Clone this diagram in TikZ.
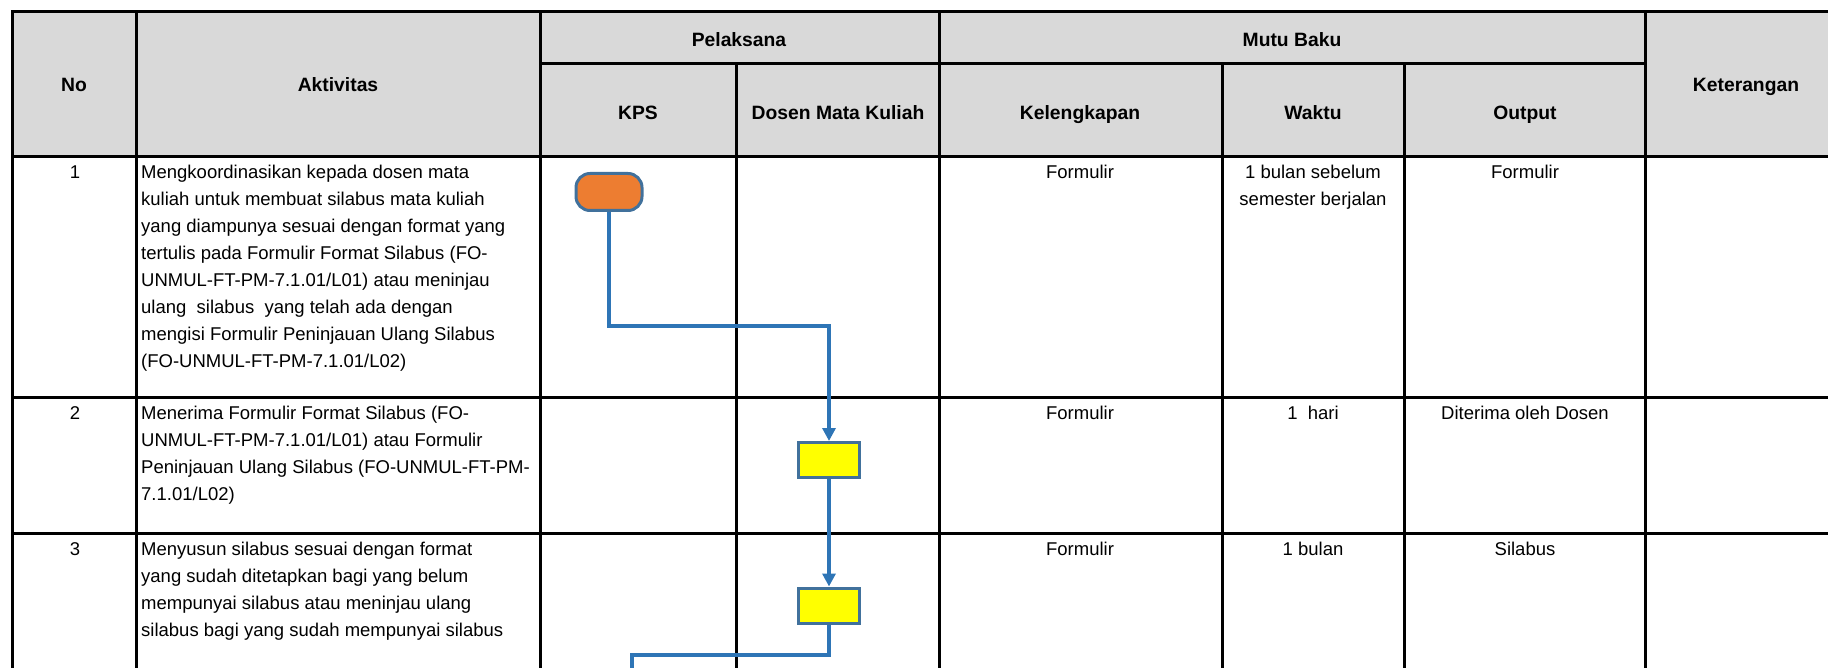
\documentclass[tikz,border=0pt]{standalone}
\usepackage{fontspec}
\setmainfont{Liberation Sans}
\usetikzlibrary{arrows.meta}
\definecolor{hdrgray}{HTML}{D9D9D9}
\definecolor{flowblue}{HTML}{2E75B6}
\definecolor{shapeblue}{HTML}{41719C}
\definecolor{termorange}{HTML}{ED7D31}
\definecolor{boxyellow}{HTML}{FFFF00}
\newcommand{\mlines}[1]{\vtop{\halign{##\hfil\cr #1\cr}}}
\newcommand{\clines}[1]{\vtop{\halign{\hfil##\hfil\cr #1\cr}}}
\begin{document}
\begin{tikzpicture}[x=1pt,y=-1pt,
  gridline/.style={line width=3pt, black, line cap=rect},
  hdrtext/.style={font=\fontsize{19.3}{24}\selectfont\bfseries, anchor=base, inner sep=0pt},
  bodytext/.style={font=\fontsize{18.5}{27}\selectfont, anchor=base west, inner sep=0pt},
  celltext/.style={font=\fontsize{18.5}{27}\selectfont, anchor=base, inner sep=0pt},
  terminal/.style={draw=shapeblue, fill=termorange, line width=3pt, rounded corners=14pt, minimum width=66pt, minimum height=37pt, inner sep=0pt},
  procbox/.style={draw=shapeblue, fill=boxyellow, line width=3pt, minimum width=61pt, minimum height=35pt, inner sep=0pt},
  flow/.style={draw=flowblue, line width=4pt},
  flowarrow/.style={flow, -{Triangle[length=13pt,width=13pt]}},
]
\useasboundingbox (0,0) rectangle (1828,668);
% header background
\fill[hdrgray] (12,12) rectangle (1840,157);
% horizontal lines
\draw[gridline] (12,12) -- (1840,12);
\draw[gridline] (540,64) -- (1645,64);
\draw[gridline] (12,157) -- (1840,157);
\draw[gridline] (12,397) -- (1840,397);
\draw[gridline] (12,533) -- (1840,533);
% vertical lines
\draw[gridline] (12,12) -- (12,680);
\draw[gridline] (136,12) -- (136,680);
\draw[gridline] (540,12) -- (540,680);
\draw[gridline] (736,64) -- (736,680);
\draw[gridline] (939,12) -- (939,680);
\draw[gridline] (1222,64) -- (1222,680);
\draw[gridline] (1404,64) -- (1404,680);
\draw[gridline] (1645,12) -- (1645,680);
% header texts
\node[hdrtext] (hno) at (74,92) {No};
\node[hdrtext] (hakt) at (338,92) {Aktivitas};
\node[hdrtext] (hpel) at (739,47) {Pelaksana};
\node[hdrtext] (hkps) at (638,120) {KPS};
\node[hdrtext] (hdos) at (838,120) {Dosen Mata Kuliah};
\node[hdrtext] (hmutu) at (1292,47) {Mutu Baku};
\node[hdrtext] (hkel) at (1080,120) {Kelengkapan};
\node[hdrtext] (hwak) at (1313,120) {Waktu};
\node[hdrtext] (hout) at (1525,120) {Output};
\node[hdrtext] (hket) at (1746,92) {Keterangan};
% row 1
\node[celltext] (n1) at (75,179) {1};
\node[bodytext] (a1) at (141,179) {\mlines{Mengkoordinasikan kepada dosen mata\cr
kuliah untuk membuat silabus mata kuliah\cr
yang diampunya sesuai dengan format yang\cr
tertulis pada Formulir Format Silabus (FO-\cr
UNMUL-FT-PM-7.1.01/L01) atau meninjau\cr
ulang\ \ silabus\ \ yang telah ada dengan\cr
mengisi Formulir Peninjauan Ulang Silabus\cr
(FO-UNMUL-FT-PM-7.1.01/L02)}};
\node[celltext] (k1) at (1080,179) {Formulir};
\node[celltext] (w1) at (1313,179) {\clines{1 bulan sebelum\cr semester berjalan}};
\node[celltext] (o1) at (1525,179) {Formulir};
% row 2
\node[celltext] (n2) at (75,419) {2};
\node[bodytext] (a2) at (141,419) {\mlines{Menerima Formulir Format Silabus (FO-\cr
UNMUL-FT-PM-7.1.01/L01) atau Formulir\cr
Peninjauan Ulang Silabus (FO-UNMUL-FT-PM-\cr
7.1.01/L02)}};
\node[celltext] (k2) at (1080,419) {Formulir};
\node[celltext] (w2) at (1313,419) {1\ \ hari};
\node[celltext] (o2) at (1525,419) {Diterima oleh Dosen};
% row 3
\node[celltext] (n3) at (75,555) {3};
\node[bodytext] (a3) at (141,555) {\mlines{Menyusun silabus sesuai dengan format\cr
yang sudah ditetapkan bagi yang belum\cr
mempunyai silabus atau meninjau ulang\cr
silabus bagi yang sudah mempunyai silabus}};
\node[celltext] (k3) at (1080,555) {Formulir};
\node[celltext] (w3) at (1313,555) {1 bulan};
\node[celltext] (o3) at (1525,555) {Silabus};
% flow shapes
\node[terminal] (t1) at (609,192) {};
\node[procbox] (p1) at (829,460) {};
\node[procbox] (p2) at (829,605.5) {};
\coordinate (turnA) at (0,326);
\coordinate (turnB) at (0,655);
\coordinate (flowend) at (632,675);
\draw[flowarrow] (t1.south) -- (t1.south |- turnA) -| (p1.north);
\draw[flowarrow] (p1.south) -- (p2.north);
\draw[flow] (p2.south) |- (flowend |- turnB) -- (flowend);
\end{tikzpicture}
\end{document}
